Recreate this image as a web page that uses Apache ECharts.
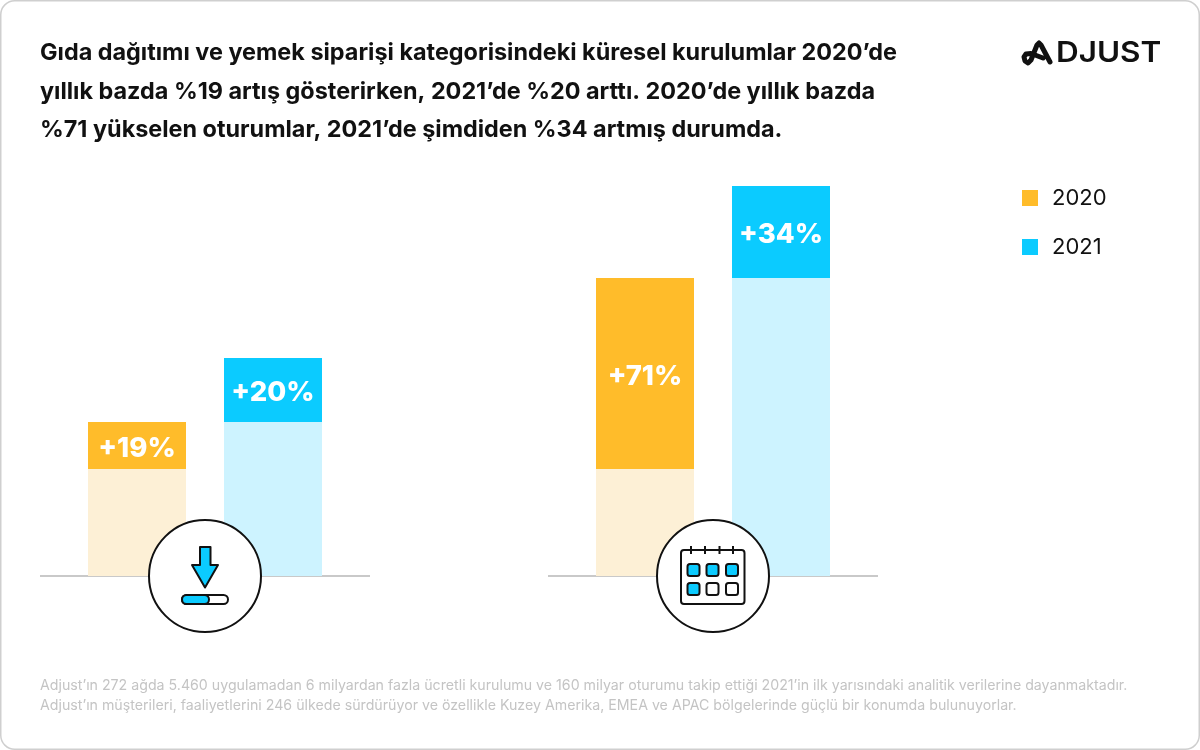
<!DOCTYPE html>
<html><head><meta charset="utf-8">
<script src="https://cdn.jsdelivr.net/npm/echarts@6/dist/echarts.min.js"></script>
<style>html,body{margin:0;padding:0;background:#fff}#c{width:1200px;height:750px}</style>
</head><body><div id="c"></div>
<script>
const years = ['2020','2021'];
const base2020 = [107,107];
const gain2020 = [47,191];
const base2021 = [154,298];
const gain2021 = [64,92];
const labels2020 = ['+19%','+71%'];
const labels2021 = ['+20%','+34%'];
const titleText = 'Gıda dağıtımı ve yemek siparişi kategorisindeki küresel kurulumlar 2020’de\nyıllık bazda %19 artış gösterirken, 2021’de %20 arttı. 2020’de yıllık bazda\n%71 yükselen oturumlar, 2021’de şimdiden %34 artmış durumda.';
const footText = 'Adjust’ın 272 ağda 5.460 uygulamadan 6 milyardan fazla ücretli kurulumu ve 160 milyar oturumu takip ettiği 2021’in ilk yarısındaki analitik verilerine dayanmaktadır.\nAdjust’ın müşterileri, faaliyetlerini 246 ülkede sürdürüyor ve özellikle Kuzey Amerika, EMEA ve APAC bölgelerinde güçlü bir konumda bulunuyorlar.';
const FONT='Inter';
const AMBER='#FFBC2A',CYAN='#0BCBFF',AMBER_L='#FDF0D6',CYAN_L='#CDF3FF',INK='#111';

const chart=echarts.init(document.getElementById('c'),null,{renderer:'canvas'});
const grids=[
 {left:69,width:272,top:176,height:400},
 {left:577,width:272,top:176,height:400},
 {left:40,width:330,top:176,height:400},
 {left:548,width:330,top:176,height:400}
];
const xAxes=grids.map((g,i)=>({type:'category',gridIndex:i,data:years,
  axisLine:{show:i>=2,lineStyle:{color:'#c9c9c9',width:2,cap:'butt'}},axisTick:{show:false},axisLabel:{show:false}}));
const yAxes=grids.map((g,i)=>({type:'value',gridIndex:i,min:0,max:400,show:false}));
const series=[];
[0,1].forEach(p=>{
  const lab=(txt)=>({show:true,position:'inside',offset:[0,3],formatter:txt,color:'#fff',fontFamily:FONT,fontWeight:800,fontSize:27.5});
  const s=(name,yr,val,color,label)=>({name,type:'bar',xAxisIndex:p,yAxisIndex:p,stack:'p'+p,barWidth:98,
     data:yr===0?[val,null]:[null,val],itemStyle:{color},label:label||{show:false},silent:true,z:3});
  series.push(s('2020 taban',0,base2020[p],AMBER_L));
  series.push(s('2020',0,gain2020[p],AMBER,lab(labels2020[p])));
  series.push(s('2021 taban',1,base2021[p],CYAN_L));
  series.push(s('2021',1,gain2021[p],CYAN,lab(labels2021[p])));
});
const sk={stroke:INK,lineWidth:2};
function badge(cx){return {type:'circle',shape:{cx,cy:576,r:56},style:{fill:'#fff',stroke:INK,lineWidth:2},z:20};}
const cells=[[687.5,564,1],[706.5,564,1],[726,564,1],[687.5,583,1],[706.5,583,0],[726,583,0]];
const graphic=[
 {type:'rect',shape:{x:0.75,y:0.75,width:1198.5,height:748.5,r:14},style:{fill:'none',stroke:'#cfcfcf',lineWidth:1.5},z:0,silent:true},
 badge(205),badge(713),
 {type:'polygon',shape:{points:[[200,547],[210.5,547],[210.5,565],[218,565],[205,587.5],[192,565],[200,565]]},style:{fill:CYAN,...sk,lineJoin:'round'},z:21},
 {type:'rect',shape:{x:182,y:595,width:46,height:9,r:4.5},style:{fill:'#fff',...sk},z:21},
 {type:'rect',shape:{x:182,y:595,width:27,height:9,r:4.5},style:{fill:CYAN,...sk},z:22},
 {type:'rect',shape:{x:681,y:550,width:63.5,height:54,r:3},style:{fill:'#fff',...sk},z:21},
 ...[691,705,719.5,733].map(x=>({type:'line',shape:{x1:x,y1:546,x2:x,y2:554},style:sk,z:22})),
 ...cells.map(c=>({type:'rect',shape:{x:c[0],y:c[1],width:12,height:12,r:2.5},style:{fill:c[2]?CYAN:'#fff',...sk},z:22})),
 {type:'polyline',shape:{points:[[1050,62],[1041,45],[1039,43],[1037,45],[1031,60],[1028,63],[1025,61],[1024,57],[1026,54],[1031,53.5],[1043,58]]},style:{fill:null,stroke:INK,lineWidth:5,lineCap:'round',lineJoin:'round'},z:10},
 {type:'text',x:1056,y:39,scaleX:1.085,style:{text:'DJUST',fontFamily:FONT,fontWeight:600,fontSize:29,fill:INK},z:10}
];
chart.setOption({
 animation:false,backgroundColor:'#fff',
 title:[
  {text:titleText,left:40,top:34,padding:0,textStyle:{fontFamily:FONT,fontWeight:700,fontSize:23.4,lineHeight:38.5,color:INK}},
  {text:footText,left:40,top:676,padding:0,textStyle:{fontFamily:FONT,fontWeight:400,fontSize:14.2,lineHeight:20,color:'#c4c4c4'}}
 ],
 legend:{data:years,orient:'vertical',left:1017,top:182,icon:'rect',itemWidth:16,itemHeight:16,itemGap:27,selectedMode:false,
   textStyle:{fontFamily:FONT,fontSize:22,color:'#111',padding:[0,0,0,9]}},
 grid:grids,xAxis:xAxes,yAxis:yAxes,series,graphic
});
</script></body></html>
